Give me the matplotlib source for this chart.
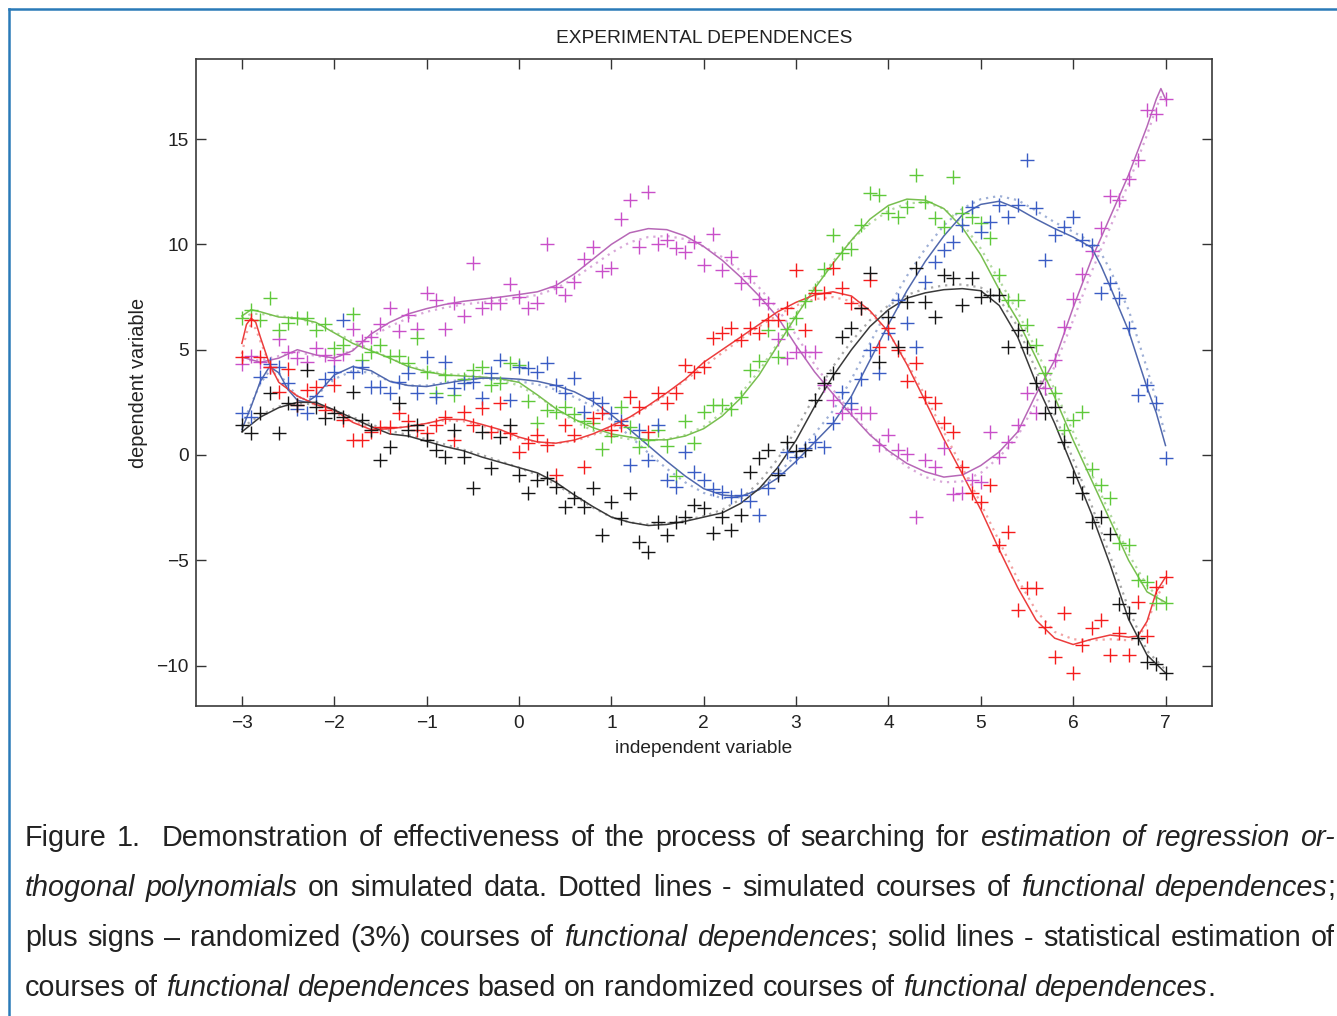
import numpy as np
import matplotlib
matplotlib.use("Agg")
import matplotlib.pyplot as plt
from matplotlib.lines import Line2D

# ---------------- data ----------------
X_PTS = np.linspace(-3.0, 7.0, 101)   # sampling grid of the plus-sign points

MAGENTA_PTS = [4.3, 4.7, 4.4, 4.2, 5.5, 4.9, 4.6, 4.4, 5.1, 4.75,
               4.5, 4.8, 6.0, 5.4, 5.6, 6.2, 7.0, 5.9, 6.65, 6.0,
               7.7, 7.35, 6.0, 7.2, 6.6, 9.1, 7.0, 7.2, 7.2, 8.1,
               7.5, 7.0, 7.2, 10.0, 8.0, 7.6, 8.2, 9.3, 9.9, 8.75,
               8.9, 11.2, 12.1, 9.9, 12.5, 10.0, 10.2, 9.85, 9.65, 10.1,
               9.0, 10.5, 8.8, 9.4, 8.15, 8.5, 7.4, 7.2, 5.5, 4.6,
               4.9, 4.9, 4.9, 3.3, 2.6, 2.0, 2.2, 2.0, 1.98, 0.47,
               0.95, 0.24, 0.05, -2.93, -0.24, -0.58, 0.32, -1.85, -1.79, -1.19,
               -1.27, 1.11, -0.11, 0.63, 1.42, 2.93, 1.98, 3.2, 4.5, 6.1,
               7.4, 8.6, 9.7, 10.8, 12.3, 12.1, 13.1, 14.0, 16.4, 16.2,
               16.9]
GREEN_PTS = [6.5, 6.9, 6.4, 7.45, 5.95, 6.25, 6.5, 6.5, 5.95, 6.2,
             5.1, 5.2, 6.7, 4.5, 4.9, 5.2, 4.7, 4.7, 4.35, 5.55,
             3.95, 2.95, 3.8, 2.85, 3.6, 4.05, 4.2, 3.3, 3.4, 4.35,
             4.25, 2.55, 1.5, 2.15, 2.05, 2.3, 1.95, 1.6, 1.5, 0.3,
             0.9, 2.3, 1.35, 0.4, 0.7, 1.2, 0.45, -1.0, 1.6, 0.55,
             2.05, 2.35, 2.35, 2.2, 2.75, 4.05, 4.45, 5.95, 4.65, 6.0,
             6.5, 7.3, 7.85, 8.85, 10.45, 9.6, 9.8, 10.9, 12.43, 12.35,
             11.48, 11.32, 11.79, 13.3, 12.03, 11.24, 10.84, 13.2, 11.48, 11.3,
             11.0, 10.29, 8.55, 7.36, 7.36, 6.17, 5.22, 3.88, 2.93, 1.19,
             1.66, 2.06, -0.68, -1.42, -2.06, -4.19, -4.27, -5.94, -6.01, -7.04,
             -7.04]
BLUE_PTS = [2.0, 1.8, 3.7, 4.3, 4.2, 3.4, 2.2, 2.0, 2.8, 3.6,
            3.96, 6.4, 3.96, 4.2, 3.24, 3.24, 2.93, 3.48, 3.88, 2.93,
            4.67, 2.77, 4.43, 3.17, 3.40, 3.48, 2.69, 3.88, 4.51, 2.61,
            4.19, 4.12, 3.96, 4.35, 3.3, 2.93, 3.64, 2.06, 2.69, 2.45,
            1.98, 1.6, -0.47, 1.19, -0.24, 1.42, -1.19, -1.50, 0.16, -0.79,
            -1.2, -1.6, -1.74, -1.98, -1.90, -2.2, -2.85, -1.58, -0.87, 0.16,
            -0.1, 0.32, 0.6, 0.40, 1.5, 3.01, 2.45, 3.6, 4.99, 3.88,
            5.8, 7.36, 6.25, 5.14, 8.23, 9.18, 9.73, 10.13, 10.92, 11.79,
            10.6, 11.08, 11.87, 11.32, 11.87, 14.01, 11.71, 9.26, 10.45, 10.84,
            11.32, 10.21, 9.97, 7.68, 8.15, 7.44, 6.02, 2.85, 3.32, 2.45,
            -0.16]
RED_PTS = [4.67, 6.41, 4.67, 4.2, 3.01, 4.1, 2.37, 3.1, 3.24, 2.14,
           3.3, 1.66, 0.71, 0.71, 1.1, 1.34, 1.34, 1.98, 1.6, 1.19,
           1.03, 1.42, 1.82, 0.71, 2.06, 1.42, 2.22, 1.11, 2.45, 1.03,
           0.16, 0.56, 0.95, 0.47, -0.95, 1.42, 0.95, -0.56, 1.74, 1.98,
           1.2, 1.42, 2.77, 2.29, 1.11, 2.93, 2.45, 2.93, 4.27, 3.96,
           4.19, 5.54, 5.78, 6.02, 5.46, 6.02, 5.8, 6.41, 6.41, 7.0,
           8.78, 5.94, 7.68, 7.68, 8.86, 7.91, 7.20, 7.0, 8.3, 5.14,
           6.02, 4.99, 3.52, 4.35, 2.77, 2.45, 1.50, 1.11, -0.58, -1.82,
           -2.22, -1.42, -4.27, -3.64, -7.36, -6.33, -6.33, -8.15, -9.58, -7.52,
           -10.37, -9.02, -8.23, -7.83, -9.50, -8.47, -9.50, -6.97, -8.59, -6.25,
           -5.78]
BLACK_PTS = [1.42, 1.03, 1.98, 2.93, 1.03, 2.45, 2.37, 4.04, 2.29, 1.74,
             2.0, 1.8, 3.01, 1.66, 1.19, -0.24, 0.40, 2.45, 1.19, 1.42,
             0.71, 0.24, -0.08, 1.19, -0.08, -1.58, 1.11, -0.63, 0.87, 1.42,
             -0.95, -1.82, -1.19, -1.11, -1.5, -2.45, -2.06, -2.45, -1.58, -3.80,
             -2.22, -3.01, -1.82, -4.12, -4.59, -3.17, -3.80, -3.17, -2.93, -2.37,
             -2.53, -3.72, -2.93, -3.56, -2.85, -0.79, -0.16, 0.24, -0.95, 0.63,
             0.2, 0.24, 2.61, 3.40, 3.88, 5.62, 6.02, 7.0, 8.63, 4.43,
             6.57, 5.14, 7.28, 8.86, 7.28, 6.57, 8.55, 8.39, 7.12, 8.39,
             7.52, 7.60, 7.60, 5.14, 5.94, 5.14, 3.44, 1.98, 2.29, 0.63,
             -1.03, -1.79, -3.17, -2.93, -3.75, -7.07, -7.49, -8.70, -9.81, -9.92,
             -10.37]

# fitted (solid) and simulated (dotted) courses
MAGENTA_LX = [-3.0, -2.8, -2.6, -2.4, -2.2, -2.0, -1.8, -1.6, -1.4, -1.2,
              -1.0, -0.8, -0.6, -0.4, -0.2, 0.0, 0.2, 0.4, 0.6, 0.8,
              1.0, 1.2, 1.4, 1.6, 1.8, 2.0, 2.2, 2.4, 2.6, 2.8,
              3.0, 3.2, 3.4, 3.6, 3.8, 4.0, 4.2, 4.4, 4.6, 4.8,
              5.0, 5.2, 5.4, 5.6, 5.8, 6.0, 6.2, 6.4, 6.6, 6.8,
              6.9, 6.95, 7.0]
MAGENTA_FIT = [4.65, 4.4, 4.6, 5.0, 4.75, 4.6, 4.95, 5.75, 6.3, 6.7,
               6.95, 7.15, 7.3, 7.4, 7.5, 7.62, 7.75, 8.05, 8.6, 9.3,
               10.0, 10.55, 10.75, 10.7, 10.4, 9.9, 9.25, 8.45, 7.55, 6.55,
               5.2, 3.95, 2.9, 1.9, 0.95, 0.2, -0.4, -0.8, -1.05, -0.95,
               -0.5, 0.15, 1.1, 2.9, 4.5, 7.0, 9.3, 11.3, 13.3, 15.6,
               16.9, 17.4, 16.9]
MAGENTA_SIM = [4.5, 4.5, 4.7, 4.9, 4.7, 4.6, 5.0, 5.6, 6.1, 6.5,
               6.8, 7.0, 7.15, 7.25, 7.35, 7.45, 7.6, 7.9, 8.4, 9.0,
               9.6, 10.1, 10.35, 10.4, 10.25, 9.9, 9.4, 8.75, 7.95, 6.95,
               5.7, 4.3, 3.1, 2.0, 1.0, 0.15, -0.55, -1.05, -1.3, -1.25,
               -0.85, -0.1, 0.9, 2.5, 4.2, 6.4, 8.7, 10.8, 12.9, 15.2,
               16.5, 17.0, 16.8]

GREEN_LX = [-3.0, -2.9, -2.8, -2.6, -2.4, -2.2, -2.0, -1.8, -1.6, -1.4,
            -1.2, -1.0, -0.8, -0.6, -0.4, -0.2, 0.0, 0.2, 0.4, 0.6,
            0.8, 1.0, 1.2, 1.4, 1.6, 1.8, 2.0, 2.2, 2.4, 2.6,
            2.8, 3.0, 3.2, 3.4, 3.6, 3.8, 4.0, 4.2, 4.4, 4.6,
            4.8, 5.0, 5.2, 5.4, 5.6, 5.8, 6.0, 6.2, 6.4, 6.6,
            6.8, 7.0]
GREEN_FIT = [6.6, 6.9, 6.8, 6.55, 6.5, 6.3, 5.8, 5.3, 4.95, 4.6,
             4.2, 3.95, 3.8, 3.75, 3.7, 3.62, 3.45, 2.85, 2.2, 1.7,
             1.3, 1.0, 0.85, 0.72, 0.72, 0.9, 1.25, 1.85, 2.7, 3.8,
             5.2, 6.6, 7.9, 9.1, 10.2, 11.2, 11.85, 12.15, 12.1, 11.7,
             10.8, 9.5, 7.85, 6.4, 4.6, 2.75, 0.7, -1.2, -3.1, -5.0,
             -6.5, -7.0]
GREEN_SIM = [6.5, 6.7, 6.7, 6.6, 6.5, 6.25, 5.85, 5.4, 5.0, 4.6,
             4.25, 4.0, 3.85, 3.8, 3.7, 3.55, 3.3, 2.8, 2.2, 1.6,
             1.15, 0.9, 0.75, 0.7, 0.75, 0.95, 1.35, 2.0, 2.9, 4.0,
             5.3, 6.7, 8.0, 9.2, 10.2, 11.0, 11.6, 11.95, 12.0, 11.7,
             11.0, 9.8, 8.3, 6.8, 5.0, 3.1, 1.1, -0.9, -2.8, -4.7,
             -6.2, -7.1]

BLUE_LX = [-3.0, -2.9, -2.8, -2.7, -2.6, -2.5, -2.4, -2.3, -2.2, -2.0,
           -1.8, -1.6, -1.4, -1.2, -1.0, -0.8, -0.6, -0.4, -0.2, 0.0,
           0.2, 0.4, 0.6, 0.8, 1.0, 1.2, 1.4, 1.6, 1.8, 2.0,
           2.2, 2.4, 2.6, 2.8, 3.0, 3.2, 3.4, 3.6, 3.8, 4.0,
           4.2, 4.4, 4.6, 4.8, 5.0, 5.2, 5.4, 5.6, 5.8, 6.0,
           6.2, 6.3, 6.4, 6.6, 6.8, 6.9, 7.0]
BLUE_FIT = [1.2, 2.3, 3.5, 4.2, 3.9, 3.1, 2.6, 2.5, 2.8, 3.8,
            4.2, 4.0, 3.5, 3.3, 3.25, 3.4, 3.55, 3.65, 3.65, 3.6,
            3.5, 3.3, 3.0, 2.55, 1.9, 1.2, 0.45, -0.3, -1.0, -1.6,
            -1.9, -1.97, -1.65, -1.1, -0.3, 0.6, 1.5, 2.8, 4.5, 6.2,
            7.8, 9.2, 10.4, 11.4, 11.9, 12.05, 11.7, 11.2, 10.75, 10.35,
            9.85, 9.0, 8.0, 5.9, 3.2, 2.0, 0.45]
BLUE_SIM = [1.4, 2.4, 3.4, 4.0, 3.9, 3.3, 2.8, 2.6, 2.8, 3.6,
            4.0, 3.9, 3.5, 3.3, 3.3, 3.45, 3.6, 3.65, 3.6, 3.5,
            3.35, 3.1, 2.75, 2.3, 1.65, 0.9, 0.1, -0.65, -1.3, -1.8,
            -2.05, -2.0, -1.6, -0.9, 0.0, 1.0, 2.1, 3.6, 5.3, 7.0,
            8.5, 9.8, 10.9, 11.7, 12.15, 12.3, 12.1, 11.6, 11.05, 10.6,
            10.1, 9.6, 8.8, 6.9, 4.1, 2.6, 0.9]

RED_LX = [-3.0, -2.95, -2.9, -2.85, -2.8, -2.7, -2.6, -2.4, -2.2, -2.0,
          -1.8, -1.6, -1.4, -1.2, -1.0, -0.8, -0.6, -0.4, -0.2, 0.0,
          0.2, 0.4, 0.6, 0.8, 1.0, 1.2, 1.4, 1.6, 1.8, 2.0,
          2.2, 2.4, 2.6, 2.8, 3.0, 3.2, 3.4, 3.6, 3.8, 4.0,
          4.2, 4.4, 4.6, 4.8, 5.0, 5.2, 5.4, 5.6, 5.8, 6.0,
          6.2, 6.4, 6.6, 6.7, 6.8, 6.9, 7.0]
RED_FIT = [5.3, 6.2, 6.5, 6.3, 5.6, 4.3, 3.45, 2.8, 2.4, 2.14,
           1.55, 1.2, 1.25, 1.35, 1.5, 1.7, 1.68, 1.45, 1.2, 0.85,
           0.62, 0.56, 0.71, 1.0, 1.38, 1.8, 2.35, 2.95, 3.6, 4.4,
           5.0, 5.6, 6.2, 6.8, 7.25, 7.6, 7.75, 7.55, 6.85, 5.85,
           4.3, 2.55, 0.75, -0.9, -2.6, -4.5, -6.3, -7.85, -8.7, -9.0,
           -8.75, -8.55, -8.65, -8.6, -7.9, -6.5, -5.8]
RED_SIM = [4.8, 5.8, 6.2, 6.0, 5.4, 4.3, 3.5, 2.8, 2.35, 2.0,
           1.6, 1.3, 1.25, 1.35, 1.5, 1.65, 1.6, 1.4, 1.1, 0.8,
           0.6, 0.55, 0.65, 0.95, 1.3, 1.75, 2.3, 2.9, 3.55, 4.2,
           4.85, 5.5, 6.1, 6.65, 7.1, 7.4, 7.5, 7.3, 6.8, 5.8,
           4.4, 2.8, 1.1, -0.6, -2.3, -4.1, -5.9, -7.4, -8.4, -8.75,
           -8.8, -8.75, -8.8, -8.7, -8.0, -6.8, -6.0]

BLACK_LX = [-3.0, -2.8, -2.6, -2.4, -2.2, -2.0, -1.8, -1.6, -1.4, -1.2,
            -1.0, -0.8, -0.6, -0.4, -0.2, 0.0, 0.2, 0.4, 0.6, 0.8,
            1.0, 1.2, 1.4, 1.6, 1.8, 2.0, 2.2, 2.4, 2.6, 2.8,
            3.0, 3.2, 3.4, 3.6, 3.8, 4.0, 4.2, 4.4, 4.6, 4.8,
            5.0, 5.2, 5.4, 5.6, 5.8, 6.0, 6.2, 6.4, 6.6, 6.8,
            7.0]
BLACK_FIT = [1.1, 1.8, 2.25, 2.5, 2.5, 2.14, 1.75, 1.35, 1.0, 0.9,
             0.65, 0.4, 0.2, -0.1, -0.35, -0.6, -0.85, -1.3, -1.9, -2.45,
             -2.95, -3.2, -3.35, -3.3, -3.15, -2.95, -2.75, -2.3, -1.6, -0.6,
             0.7, 2.3, 3.75, 5.0, 6.1, 6.9, 7.45, 7.7, 7.85, 7.9,
             7.8, 7.1, 5.6, 3.4, 1.5, -0.65, -2.8, -5.2, -7.8, -9.5,
             -10.35]
BLACK_SIM = [1.3, 1.9, 2.3, 2.45, 2.4, 2.15, 1.8, 1.45, 1.15, 0.95,
             0.75, 0.5, 0.25, 0.0, -0.3, -0.6, -0.95, -1.4, -1.95, -2.5,
             -2.95, -3.2, -3.3, -3.25, -3.1, -2.9, -2.6, -2.1, -1.3, -0.2,
             1.2, 2.8, 4.2, 5.4, 6.4, 7.1, 7.6, 7.9, 8.05, 8.1,
             7.95, 7.4, 6.1, 4.0, 1.9, -0.2, -2.4, -4.8, -7.3, -9.3,
             -10.2]

X_TICKS = [-3, -2, -1, 0, 1, 2, 3, 4, 5, 6, 7]
Y_TICKS = [-10, -5, 0, 5, 10, 15]
TITLE = "EXPERIMENTAL DEPENDENCES"
XLABEL = "independent variable"
YLABEL = "dependent variable"

# ---------------- styles ----------------
SERIES = [
    # name, pts, lx, fit, sim, point colour, line colour, dot colour
    ("magenta", MAGENTA_PTS, MAGENTA_LX, MAGENTA_FIT, MAGENTA_SIM, "#c94fc9", "#b768b7", "#d9a8d9"),
    ("green", GREEN_PTS, GREEN_LX, GREEN_FIT, GREEN_SIM, "#5fc93a", "#78bf4f", "#b2d9a0"),
    ("blue", BLUE_PTS, BLUE_LX, BLUE_FIT, BLUE_SIM, "#3a5cc4", "#5068ad", "#9fb0d6"),
    ("red", RED_PTS, RED_LX, RED_FIT, RED_SIM, "#f51c1c", "#ec3d3d", "#f2a3a3"),
    ("black", BLACK_PTS, BLACK_LX, BLACK_FIT, BLACK_SIM, "#151515", "#3a3a3a", "#a8a8a8"),
]

W, H = 1337, 1016
FONT = ["Liberation Sans", "DejaVu Sans"]
plt.rcParams["font.family"] = FONT

fig = plt.figure(figsize=(W / 100, H / 100), dpi=100)
fig.patch.set_facecolor("white")

ax_l, ax_r, ax_t, ax_b = 195.7, 1211.7, 59.3, 706.0
ax = fig.add_axes([ax_l / W, 1 - ax_b / H, (ax_r - ax_l) / W, (ax_b - ax_t) / H])

for name, pts, lx, fit, sim, pc, lc, dc in SERIES:
    ax.plot(lx, sim, linestyle=(0, (1, 2.2)), color=dc, lw=1.6, zorder=1)
for name, pts, lx, fit, sim, pc, lc, dc in SERIES:
    ax.plot(lx, fit, linestyle="-", color=lc, lw=1.1, zorder=2)
for name, pts, lx, fit, sim, pc, lc, dc in SERIES:
    ax.plot(X_PTS, pts, linestyle="none", marker="+", markersize=9.5,
            markeredgewidth=1.0, color=pc, zorder=3)

ax.set_xlim(-3.5, 7.5)
ax.set_ylim(-11.92, 18.79)
ax.set_xticks(X_TICKS)
ax.set_yticks(Y_TICKS)
LAB_FS = 13.8
ax.tick_params(direction="in", length=7.2, width=1.0, top=True, right=True,
               labelsize=LAB_FS, colors="#333333", labelcolor="#222222")
ax.tick_params(axis="x", pad=6.5)
ax.tick_params(axis="y", pad=5)
for s in ax.spines.values():
    s.set_linewidth(1.2)
    s.set_color("#3a3a3a")

ax.set_title(TITLE, fontsize=LAB_FS, color="#222222", pad=12)
ax.set_xlabel(XLABEL, fontsize=LAB_FS, color="#222222", labelpad=6)
ax.set_ylabel(YLABEL, fontsize=14.3, color="#222222", labelpad=6)

# frame lines of the page (left and top)
fig.add_artist(Line2D([8.5 / W, 8.5 / W], [0, 1 - 8.5 / H], color="#2a7ab8", lw=1.8))
fig.add_artist(Line2D([8.5 / W, 1.0], [1 - 8.5 / H, 1 - 8.5 / H], color="#2a7ab8", lw=1.8))

# ---------------- caption ----------------
CAPTION = [
    ([[("Figure", 0)], [("1.", 0)], [("", 0)], [("Demonstration", 0)], [("of", 0)], [("effectiveness", 0)],
      [("of", 0)], [("the", 0)], [("process", 0)], [("of", 0)], [("searching", 0)], [("for", 0)],
      [("estimation", 1)], [("of", 1)], [("regression", 1)], [("or-", 1)]], True),
    ([[("thogonal", 1)], [("polynomials", 1)], [("on", 0)], [("simulated", 0)], [("data.", 0)],
      [("Dotted", 0)], [("lines", 0)], [("-", 0)], [("simulated", 0)], [("courses", 0)], [("of", 0)],
      [("functional", 1)], [("dependences", 1), (";", 0)]], True),
    ([[("plus", 0)], [("signs", 0)], [("\u2013", 0)], [("randomized", 0)], [("(3%)", 0)], [("courses", 0)],
      [("of", 0)], [("functional", 1)], [("dependences", 1), (";", 0)], [("solid", 0)], [("lines", 0)],
      [("-", 0)], [("statistical", 0)], [("estimation", 0)], [("of", 0)]], True),
    ([[("courses", 0)], [("of", 0)], [("functional", 1)], [("dependences", 1)], [("based", 0)],
      [("on", 0)], [("randomized", 0)], [("courses", 0)], [("of", 0)], [("functional", 1)],
      [("dependences", 1), (".", 0)]], False),
]
CAP_BASELINES = [846.5, 896.0, 946.5, 996.5]
CAP_LEFT, CAP_RIGHT = 25.0, 1335.0
CAP_FS = 20.7

renderer = fig.canvas.get_renderer()


def tw(txt, italic):
    if txt == "":
        return 0.0
    t = fig.text(0, 0, txt, fontsize=CAP_FS, style="italic" if italic else "normal")
    w = t.get_window_extent(renderer).width
    t.remove()
    return w


space_w = tw("a a", 0) - tw("aa", 0)

for (tokens, justify), yb in zip(CAPTION, CAP_BASELINES):
    widths = [sum(tw(s, it) for s, it in tok) for tok in tokens]
    n_gaps = len(tokens) - 1
    if justify:
        gap = (CAP_RIGHT - CAP_LEFT - sum(widths)) / n_gaps
    else:
        gap = space_w
    x = CAP_LEFT
    for tok, w in zip(tokens, widths):
        xx = x
        for s, it in tok:
            if s:
                fig.text(xx / W, 1 - yb / H, s, fontsize=CAP_FS, va="baseline", ha="left",
                         style="italic" if it else "normal", color="#222222")
                xx += tw(s, it)
        x += w + gap

fig.savefig("out.png", dpi=100, facecolor="white")
